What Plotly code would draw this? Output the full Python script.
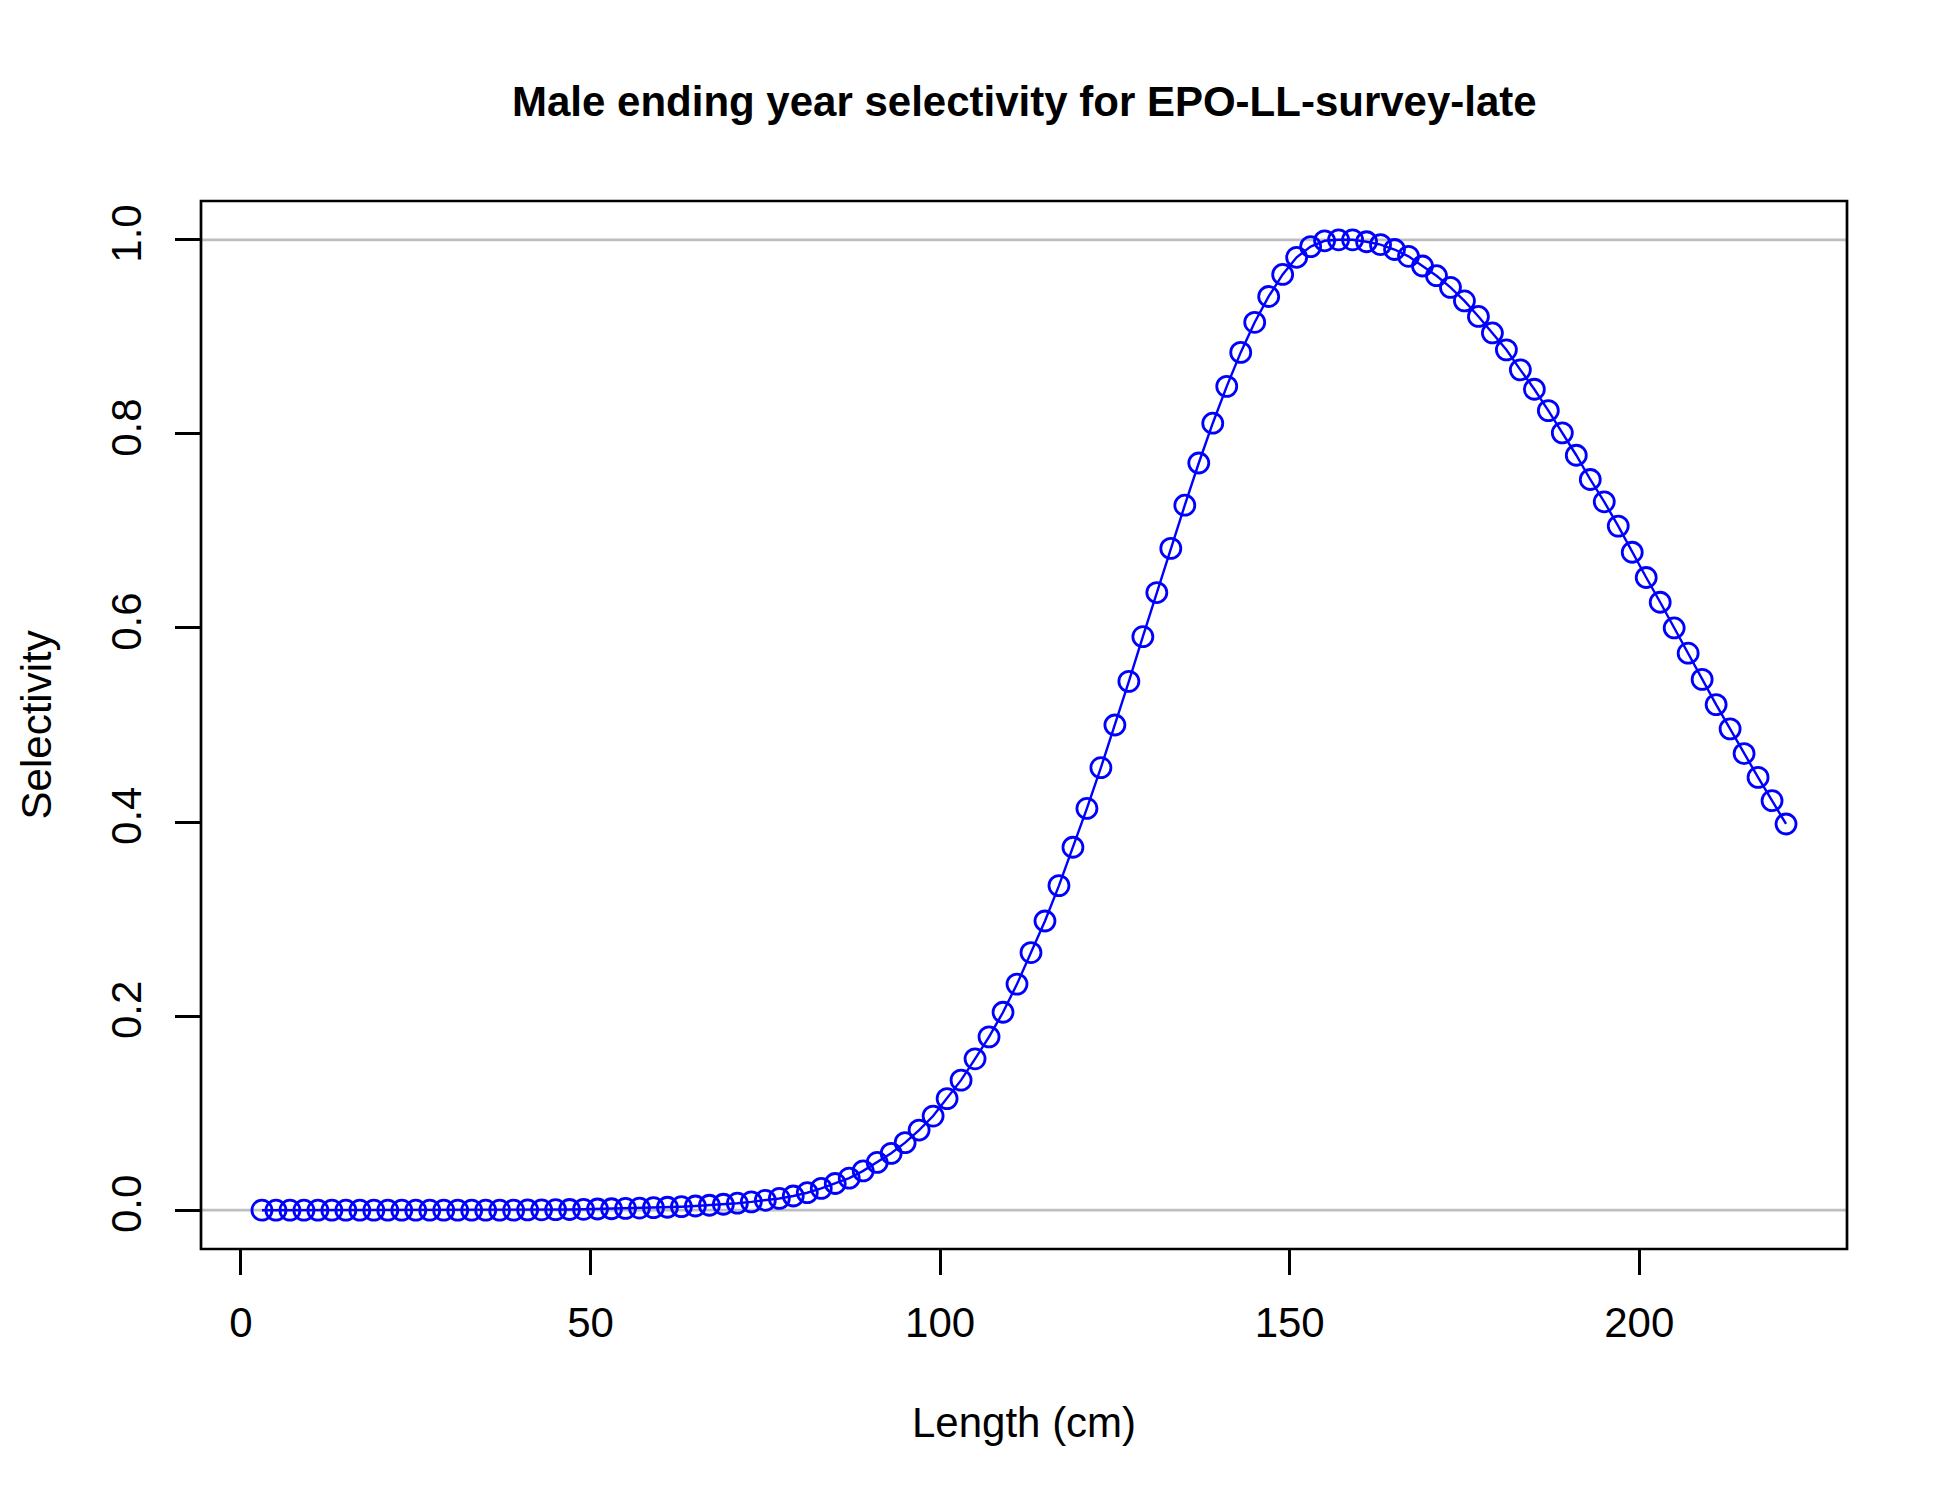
import plotly.graph_objects as go

lengths = [3, 5, 7, 9, 11, 13, 15, 17, 19, 21,
           23, 25, 27, 29, 31, 33, 35, 37, 39, 41,
           43, 45, 47, 49, 51, 53, 55, 57, 59, 61,
           63, 65, 67, 69, 71, 73, 75, 77, 79, 81,
           83, 85, 87, 89, 91, 93, 95, 97, 99, 101,
           103, 105, 107, 109, 111, 113, 115, 117, 119, 121,
           123, 125, 127, 129, 131, 133, 135, 137, 139, 141,
           143, 145, 147, 149, 151, 153, 155, 157, 159, 161,
           163, 165, 167, 169, 171, 173, 175, 177, 179, 181,
           183, 185, 187, 189, 191, 193, 195, 197, 199, 201,
           203, 205, 207, 209, 211, 213, 215, 217, 219, 221]

selectivity = [0, 0, 0, 0, 0, 0, 0, 0, 0, 0,
               0, 0, 0, 0, 0, 0, 0, 0, 0, 0.0003,
               0.0004, 0.0005, 0.0007, 0.0009, 0.0012, 0.0015, 0.0018, 0.0022, 0.0026, 0.0030,
               0.0036, 0.0043, 0.0051, 0.0061, 0.0072, 0.0086, 0.0102, 0.0121, 0.0146, 0.0180,
               0.0225, 0.0275, 0.0330, 0.0405, 0.0492, 0.0586, 0.0696, 0.0826, 0.0970, 0.1150,
               0.1340, 0.1560, 0.1786, 0.2040, 0.2330, 0.2655, 0.2980, 0.3345, 0.3740, 0.4140,
               0.4560, 0.5000, 0.5450, 0.5910, 0.6365, 0.6820, 0.7265, 0.7700, 0.8110, 0.8490,
               0.8840, 0.9150, 0.9416, 0.9643, 0.9820, 0.9930, 0.9990, 1.0000, 1.0000, 0.9980,
               0.9950, 0.9900, 0.9830, 0.9730, 0.9630, 0.9510, 0.9370, 0.9210, 0.9040, 0.8866,
               0.8660, 0.8460, 0.8240, 0.8010, 0.7780, 0.7530, 0.7300, 0.7050, 0.6780, 0.6520,
               0.6265, 0.6000, 0.5740, 0.5470, 0.5210, 0.4960, 0.4706, 0.4460, 0.4220, 0.3980]

x_ticks = [0, 50, 100, 150, 200]
y_ticks = [0.0, 0.2, 0.4, 0.6, 0.8, 1.0]
y_tick_labels = ["0.0", "0.2", "0.4", "0.6", "0.8", "1.0"]
ref_lines = [0, 1]

title_text = "Male ending year selectivity for EPO-LL-survey-late"
x_label = "Length (cm)"
y_label = "Selectivity"

FONT = "Liberation Sans, Arial, sans-serif"

fig = go.Figure()

fig.add_trace(go.Scatter(
    x=lengths, y=selectivity, mode="lines+markers",
    line=dict(color="#0000FF", width=2.4),
    marker=dict(symbol="circle-open", size=20, color="#0000FF",
                line=dict(color="#0000FF", width=2.8)),
    showlegend=False, hoverinfo="x+y",
))

shapes = []
for v in ref_lines:
    shapes.append(dict(type="line", xref="paper", x0=0, x1=1, yref="y", y0=v, y1=v,
                       line=dict(color="#BEBEBE", width=2.7), layer="below"))
shapes.append(dict(type="rect", xref="paper", yref="paper", x0=0, x1=1, y0=0, y1=1,
                   line=dict(color="black", width=2.7), layer="above"))

annotations = [
    dict(text="<b>" + title_text + "</b>", xref="paper", yref="paper",
         x=0.5, y=1.0954, xanchor="center", yanchor="middle", showarrow=False,
         font=dict(family=FONT, size=42, color="black")),
    dict(text=x_label, xref="paper", yref="paper",
         x=0.5, y=-0.166, xanchor="center", yanchor="middle", showarrow=False,
         font=dict(family=FONT, size=42, color="black")),
    dict(text=y_label, xref="paper", yref="paper",
         x=-0.1, y=0.5, xanchor="center", yanchor="middle", showarrow=False,
         textangle=-90, font=dict(family=FONT, size=42, color="black")),
]

fig.update_layout(
    width=1942, height=1492,
    margin=dict(l=193, r=103, t=193, b=251),
    paper_bgcolor="white", plot_bgcolor="white",
    font=dict(family=FONT, size=42, color="black"),
    shapes=shapes, annotations=annotations,
    xaxis=dict(range=[-5.72, 229.72], tickvals=x_ticks, ticks="outside",
               ticklen=25, tickwidth=2.7, tickcolor="black", showgrid=False,
               zeroline=False, showline=False, ticklabelstandoff=12,
               tickfont=dict(family=FONT, size=42)),
    yaxis=dict(range=[-0.04, 1.04], tickvals=y_ticks, ticktext=y_tick_labels,
               ticks="outside", ticklen=25, tickwidth=2.7, tickcolor="black",
               showgrid=False, zeroline=False, showline=False, tickangle=-90,
               ticklabelstandoff=17, tickfont=dict(family=FONT, size=42)),
)

fig.write_html("out.html")
